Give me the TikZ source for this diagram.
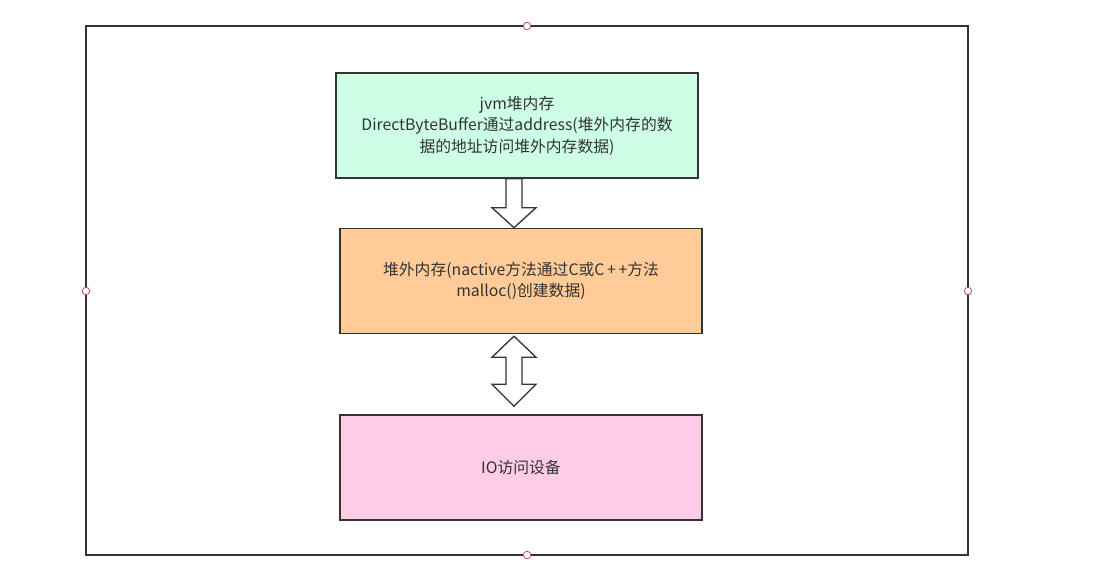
\documentclass[tikz,border=0pt]{standalone}
\usepackage{fontspec}
\setmainfont{Noto Sans CJK SC}
\definecolor{edge}{HTML}{333333}
\definecolor{mint}{HTML}{CCFFE6}
\definecolor{peach}{HTML}{FFCC99}
\definecolor{pinkf}{HTML}{FFCCE6}
\definecolor{handle}{HTML}{B85450}
\definecolor{txt}{HTML}{333333}
\begin{document}
\begin{tikzpicture}[x=1pt,y=-1pt,
  boxstyle/.style={draw=edge,line width=1.4pt,minimum width=362pt,minimum height=105pt,inner sep=0pt,align=center,text=txt,font=\fontsize{15.8}{21.5}\selectfont},
  blockarrow/.style={draw=edge,line width=1.3pt,fill=white,line join=miter},
  handlestyle/.style={circle,draw=handle,fill=white,line width=0.8pt,minimum size=7.5pt,inner sep=0pt}]
\useasboundingbox (0,0) rectangle (1105,587);
\draw[edge,line width=1.4pt] (86,26) rectangle (968,555);
\node[boxstyle,fill=mint] (b1) at (517,125.5) {jvm堆内存\\DirectByteBuffer通过address(堆外内存的数\\据的地址访问堆外内存数据)};
\node[boxstyle,fill=peach] (b2) at (521,281) {堆外内存(nactive方法通过C或C\,+\,+方法\\malloc()创建数据)};
\node[boxstyle,fill=pinkf] (b3) at (521,467.5) {IO访问设备};
\draw[blockarrow] ([xshift=-11pt]b1.south) -- ++(0,29) -- ++(-14,0) -- ++(22,20) -- ++(22,-20) -- ++(-14,0) -- ([xshift=5pt]b1.south) -- cycle;
\draw[blockarrow] ([xshift=-7pt,yshift=-2pt]b2.south) -- ++(22,21) -- ++(-14,0) -- ++(0,27) -- ++(14,0) -- ++(-22,22) -- ++(-22,-22) -- ++(14,0) -- ++(0,-27) -- ++(-14,0) -- cycle;
\node[handlestyle] (h1) at (527,26) {};
\node[handlestyle] (h2) at (86,291) {};
\node[handlestyle] (h3) at (968,291) {};
\node[handlestyle] (h4) at (527,555) {};
\end{tikzpicture}
\end{document}
